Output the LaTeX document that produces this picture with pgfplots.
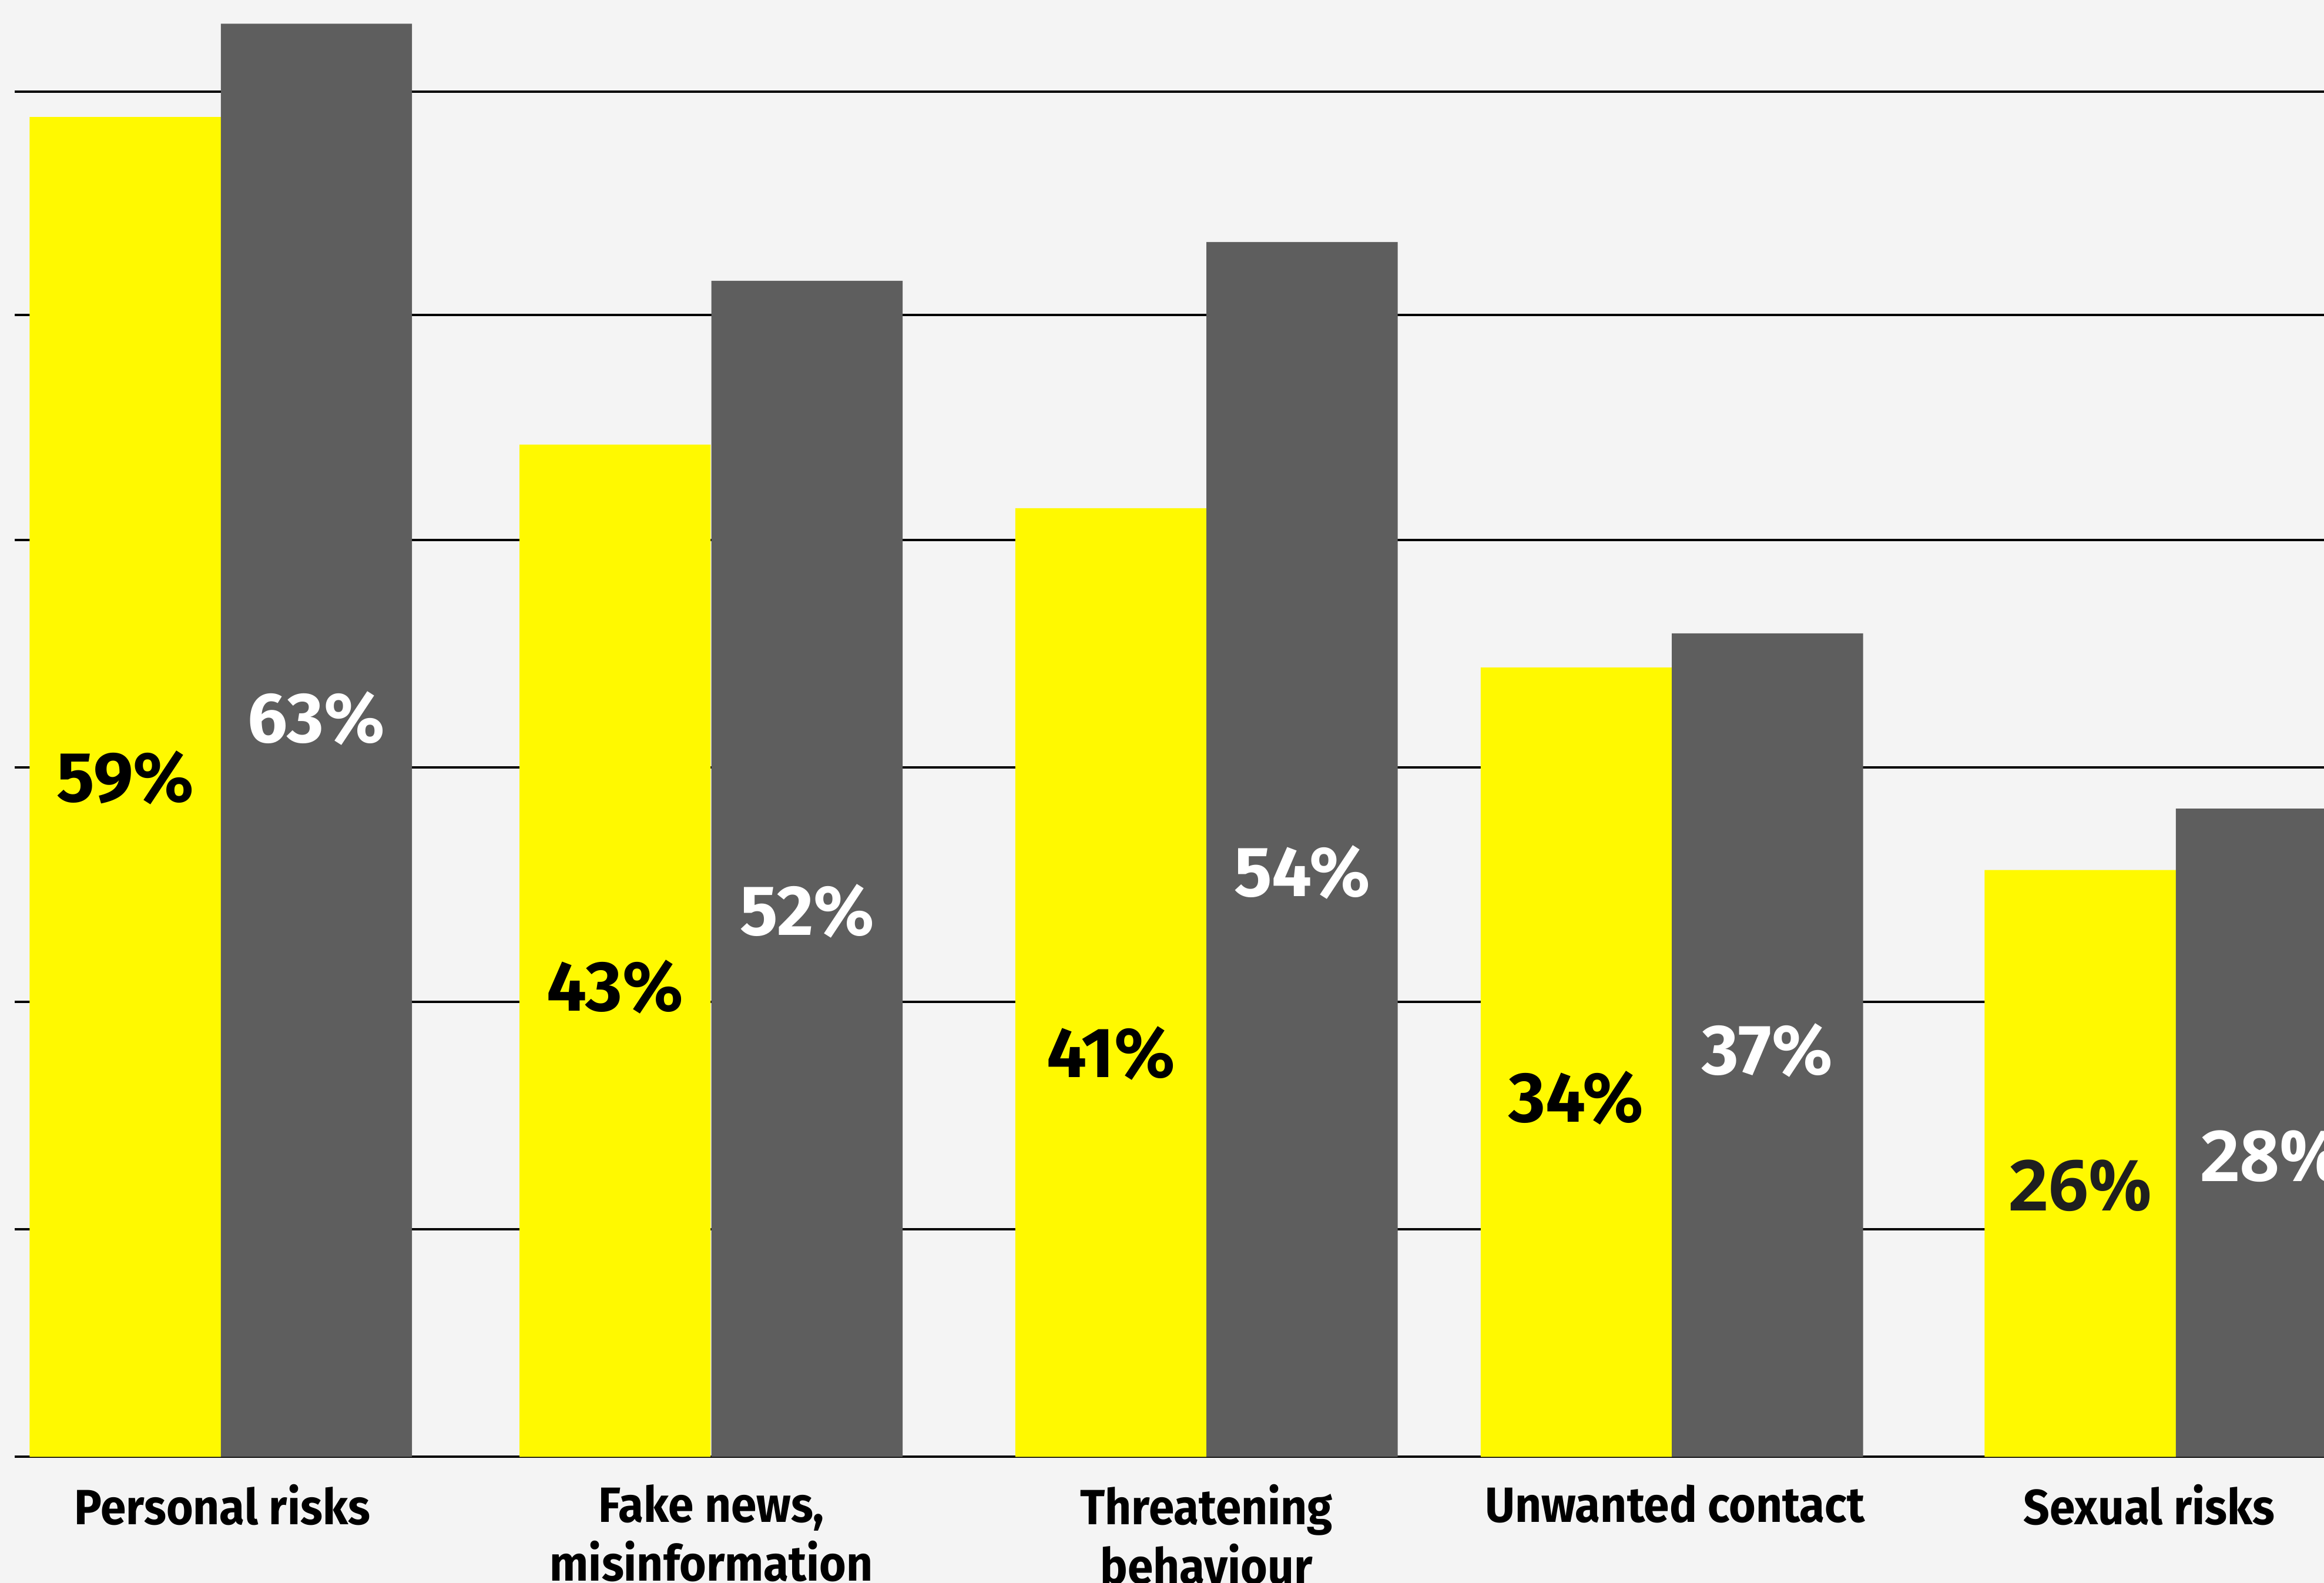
\documentclass[border=0pt]{standalone}
\usepackage{pgfplots}
\pgfplotsset{compat=1.18}
\usepackage{fontspec}
\setmainfont{Fira Sans}
\newfontfamily\catfont{Fira Sans}[FakeStretch=0.93]
\newfontfamily\opensans{Open Sans}
\definecolor{bg}{HTML}{F4F4F4}
\definecolor{barY}{HTML}{FFF900}
\definecolor{barG}{HTML}{5E5E5E}
\definecolor{ink}{HTML}{1F1F1F}
\begin{document}
\begin{tikzpicture}
\useasboundingbox (0,0) rectangle (15.68,10.68);
\fill[bg] (0,0) rectangle (15.68,10.68);
\clip (0,0) rectangle (15.68,10.68);
\begin{axis}[
  at={(0.10cm,0.85cm)}, anchor=south west,
  scale only axis, width=15.58cm, height=9.83cm,
  xmin=10, xmax=1568, ymin=0, ymax=64.04,
  axis line style={draw=none},
  major tick length=0pt,
  ytick={0,10,20,30.3,40.3,50.2,60}, yticklabels={},
  ymajorgrids, major grid style={black, line width=0.45pt},
  xtick={150,480,814,1130,1450},
  xticklabels={Personal risks, {Fake news,\\misinformation}, {Threatening\\behaviour}, Unwanted contact, Sexual risks},
  xticklabel style={anchor=north, inner sep=0pt, yshift=-0.18cm, align=center,
    font=\catfont\fontsize{9.5}{11.3}\selectfont\bfseries},
  clip=true,
]
% 2 series, x = bar centre
\addplot[ybar, bar width=129, bar shift=0pt, fill=barY, draw=none] coordinates {
  (84.5,58.9) (415,44.5) (749.5,41.7) (1063.5,34.7) (1403.5,25.8)};
\addplot[ybar, bar width=129, bar shift=0pt, fill=barG, draw=none] coordinates {
  (213.5,63.0) (544.5,51.7) (878.5,53.4) (1192.5,36.2) (1532.5,28.5)};
% value labels
\tikzset{lab/.style={anchor=base, inner sep=0pt, font=\fontsize{13.6}{14}\selectfont\bfseries}}
\node[lab, text=black] at (axis cs:84.5,28.80) {59\%};
\node[lab, text=white] at (axis cs:213.5,31.40) {63\%};
\node[lab, text=black] at (axis cs:415,19.61) {43\%};
\node[lab, text=white] at (axis cs:544.5,22.93) {52\%};
\node[lab, text=black] at (axis cs:749.5,16.68) {41\%};
\node[lab, text=white] at (axis cs:878.5,24.63) {54\%};
\node[lab, text=black] at (axis cs:1063.5,14.72) {34\%};
\node[lab, text=white] at (axis cs:1192.5,16.81) {37\%};
\node[anchor=base, inner sep=0pt, text=ink, font=\opensans\fontsize{13.5}{14}\selectfont\bfseries] at (axis cs:1403.5,10.81) {26\%};
\node[anchor=base, inner sep=0pt, text=white, font=\opensans\fontsize{13.5}{14}\selectfont\bfseries] at (axis cs:1532.5,12.12) {28\%};
\end{axis}
\end{tikzpicture}
\end{document}
